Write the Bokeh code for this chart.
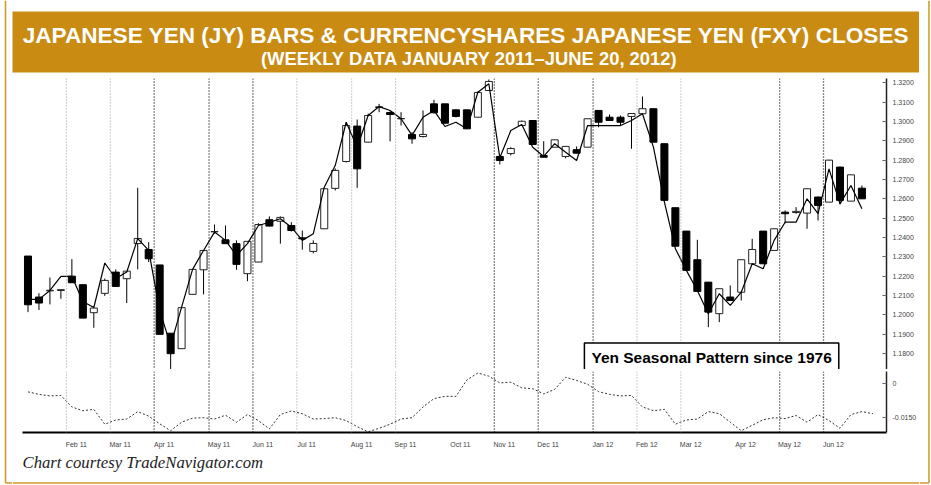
from bokeh.plotting import figure
from bokeh.models import (Range1d, LinearAxis, FixedTicker, Span, Label,
                          CustomJSTickFormatter, NumeralTickFormatter)
from bokeh.layouts import column, row
from bokeh.embed import file_html
from bokeh.resources import INLINE

# ---------------- data (weekly bars, Jan 2011 - Jun 20, 2012) ----------------
jy_open = [1.2304, 1.2092, 1.2124, 1.2126, 1.2200, 1.2156, 1.2011, 1.2111, 1.2221, 1.2187,
           1.2369, 1.2338, 1.2258, 1.1905, 1.1825, 1.2106, 1.2233, 1.2429, 1.2388, 1.2368,
           1.2213, 1.2273, 1.2492, 1.2484, 1.2462, 1.2398, 1.2328, 1.2445, 1.2654, 1.2793,
           1.2976, 1.2893, 1.3072, 1.3046, 1.3014, 1.2933, 1.2922, 1.3091, 1.3091, 1.3060,
           1.3060, 1.3022, 1.3160, 1.2819, 1.2834, 1.2979, 1.3005, 1.2824, 1.2867, 1.2819,
           1.2854, 1.2867, 1.3057, 1.3022, 1.3022, 1.3026, 1.3040, 1.3066, 1.2885, 1.2554,
           1.2433, 1.2285, 1.2169, 1.2006, 1.2092, 1.2117, 1.2264, 1.2433, 1.2333, 1.2531,
           1.2529, 1.2526, 1.2609, 1.2583, 1.2764, 1.2588, 1.2655]
jy_close = [1.2052, 1.2061, 1.2127, 1.2130, 1.2166, 1.1983, 1.2035, 1.2178, 1.2147, 1.2226,
            1.2395, 1.2290, 1.1899, 1.1799, 1.2037, 1.2235, 1.2333, 1.2431, 1.2368, 1.2261,
            1.2380, 1.2467, 1.2459, 1.2504, 1.2436, 1.2393, 1.2369, 1.2652, 1.2747, 1.2979,
            1.2755, 1.3031, 1.3076, 1.3036, 1.3015, 1.2910, 1.2933, 1.3045, 1.2991, 1.3026,
            1.2962, 1.3150, 1.3207, 1.2798, 1.2860, 1.3001, 1.2881, 1.2815, 1.2905, 1.2871,
            1.2836, 1.3014, 1.2996, 1.3005, 1.2996, 1.3041, 1.3066, 1.2893, 1.2592, 1.2355,
            1.2230, 1.2121, 1.2014, 1.2135, 1.2074, 1.2285, 1.2338, 1.2264, 1.2445, 1.2523,
            1.2535, 1.2652, 1.2566, 1.2800, 1.2592, 1.2724, 1.2600]
jy_high = [1.2304, 1.2112, 1.2193, 1.2131, 1.2288, 1.2156, 1.2038, 1.2188, 1.2235, 1.2226,
           1.2657, 1.2376, 1.2258, 1.1905, 1.2037, 1.2235, 1.2333, 1.2467, 1.2462, 1.2385,
           1.2380, 1.2474, 1.2509, 1.2509, 1.2479, 1.2436, 1.2385, 1.2652, 1.2757, 1.2995,
           1.3010, 1.3041, 1.3091, 1.3052, 1.3048, 1.2945, 1.3057, 1.3112, 1.3091, 1.3062,
           1.3060, 1.3155, 1.3217, 1.2824, 1.2867, 1.3005, 1.3005, 1.2898, 1.2907, 1.2871,
           1.2871, 1.3014, 1.3057, 1.3036, 1.3031, 1.3043, 1.3129, 1.3066, 1.2885, 1.2554,
           1.2433, 1.2388, 1.2169, 1.2135, 1.2152, 1.2285, 1.2393, 1.2433, 1.2445, 1.2540,
           1.2557, 1.2654, 1.2612, 1.2802, 1.2767, 1.2724, 1.2669]
jy_low = [1.2014, 1.2025, 1.2054, 1.2083, 1.2166, 1.1983, 1.1933, 1.2098, 1.2147, 1.2061,
          1.2235, 1.2273, 1.1899, 1.1720, 1.1825, 1.2106, 1.2106, 1.2419, 1.2367, 1.2233,
          1.2174, 1.2273, 1.2457, 1.2368, 1.2431, 1.2337, 1.2318, 1.2445, 1.2643, 1.2788,
          1.2657, 1.2891, 1.3048, 1.2897, 1.2979, 1.2885, 1.2917, 1.3041, 1.2990, 1.3021,
          1.2962, 1.3021, 1.3160, 1.2778, 1.2824, 1.2979, 1.2881, 1.2814, 1.2866, 1.2809,
          1.2834, 1.2867, 1.2970, 1.3005, 1.2979, 1.2859, 1.3040, 1.2893, 1.2592, 1.2355,
          1.2230, 1.2121, 1.1936, 1.1962, 1.2074, 1.2074, 1.2264, 1.2264, 1.2333, 1.2473,
          1.2523, 1.2445, 1.2488, 1.2583, 1.2571, 1.2588, 1.2600]
fxy_close = [1.2080, 1.2080, 1.2126, 1.2199, 1.2199, 1.2069, 1.2038, 1.2268, 1.2188, 1.2221,
             1.2394, 1.2333, 1.2023, 1.1842, 1.2040, 1.2235, 1.2333, 1.2428, 1.2385, 1.2307,
             1.2368, 1.2462, 1.2479, 1.2497, 1.2453, 1.2385, 1.2419, 1.2660, 1.2772, 1.2996,
             1.2867, 1.3031, 1.3077, 1.3057, 1.3014, 1.2928, 1.3022, 1.3057, 1.2974, 1.2996,
             1.2962, 1.3151, 1.3195, 1.2812, 1.2953, 1.2984, 1.2867, 1.2819, 1.2885, 1.2841,
             1.2798, 1.2979, 1.2979, 1.2979, 1.2979, 1.3005, 1.3040, 1.2867, 1.2583, 1.2342,
             1.2230, 1.2126, 1.2006, 1.2109, 1.2049, 1.2117, 1.2264, 1.2238, 1.2385, 1.2479,
             1.2479, 1.2600, 1.2523, 1.2755, 1.2574, 1.2669, 1.2549]
seasonal = [-0.0038, -0.0049, -0.0056, -0.0054, -0.0105, -0.0122, -0.0116, -0.0182, -0.0163, -0.0159,
            -0.0126, -0.0146, -0.0180, -0.0211, -0.0173, -0.0155, -0.0153, -0.0159, -0.0142, -0.0173,
            -0.0139, -0.0166, -0.0203, -0.0139, -0.0123, -0.0135, -0.0159, -0.0157, -0.0153, -0.0166,
            -0.0193, -0.0216, -0.0200, -0.0182, -0.0159, -0.0153, -0.0105, -0.0068, -0.0058, -0.0058,
            0.0015, 0.0046, 0.0032, 0.0002, 0.0005, -0.0020, -0.0024, -0.0047, -0.0027, 0.0027,
            0.0013, -0.0004, -0.0037, -0.0049, -0.0056, -0.0054, -0.0105, -0.0122, -0.0116, -0.0182,
            -0.0163, -0.0159, -0.0126, -0.0135, -0.0173, -0.0211, -0.0187, -0.0162, -0.0153, -0.0157,
            -0.0143, -0.0173, -0.0139, -0.0166, -0.0200, -0.0139, -0.0126, -0.0135]

month_labels = ["Feb 11", "Mar 11", "Apr 11", "May 11", "Jun 11", "Jul 11", "Aug 11", "Sep 11",
                "Oct 11", "Nov 11", "Dec 11", "Jan 12", "Feb 12", "Mar 12", "Apr 12", "May 12", "Jun 12"]
month_first_bar = [4, 8, 12, 17, 21, 25, 30, 34, 39, 43, 47, 52, 56, 60, 65, 69, 73]
price_ticks = [1.18, 1.19, 1.20, 1.21, 1.22, 1.23, 1.24, 1.25, 1.26, 1.27, 1.28, 1.29, 1.30, 1.31, 1.32]
seasonal_ticks = [0.0, -0.015]

title_1 = "JAPANESE YEN (JY) BARS & CURRENCYSHARES JAPANESE YEN (FXY) CLOSES"
title_2 = "(WEEKLY DATA JANUARY 2011\u2013JUNE 20, 2012)"
note = "Yen Seasonal Pattern since 1976"
credit = "Chart courtesy TradeNavigator.com"

# ---------------- styling ----------------
GOLD = "#C98B12"
FRAME_GOLD = "#D29A2E"
COLW = 907
dark_months = {"Apr 11", "May 11", "Jun 11", "Nov 11", "Dec 11", "Jan 12", "May 12", "Jun 12"}
hidden_months = {"Oct 11", "Apr 12"}

bars = list(range(len(jy_open)))
sidx = list(range(len(seasonal)))
x_range = Range1d(-0.5, 78.24)


def bare(fig):
    fig.outline_line_color = None
    fig.grid.visible = False
    fig.border_fill_color = "white"
    fig.background_fill_color = "white"
    return fig


common = dict(toolbar_location=None, output_backend="svg", title=None,
              x_axis_location=None, y_axis_location=None)
noborder = dict(min_border_left=0, min_border_right=0, min_border_top=0, min_border_bottom=0)

# ---------------- outer gold frame strips ----------------
left_strip = bare(figure(width=12, height=485, x_range=Range1d(0, 12), y_range=Range1d(485, 0),
                         frame_align=False, **noborder, **common))
left_strip.segment(x0=[5, 5], y0=[0, 482.5], x1=[5, 12], y1=[482.5, 482.5],
                   line_color=FRAME_GOLD, line_width=1.6)
right_strip = bare(figure(width=12, height=485, x_range=Range1d(919, 931), y_range=Range1d(485, 0),
                          frame_align=False, **noborder, **common))
right_strip.segment(x0=[928.5, 919], y0=[0, 482.5], x1=[928.5, 928.5], y1=[482.5, 482.5],
                    line_color=FRAME_GOLD, line_width=1.6)

# ---------------- banner ----------------
banner = bare(figure(width=COLW, height=78, x_range=Range1d(12, 919), y_range=Range1d(72, 11),
                     min_border_left=0, min_border_right=0, min_border_top=11, min_border_bottom=6,
                     frame_align=False, **common))
banner.background_fill_color = GOLD
banner.add_layout(Label(x=465.5, y=35, text=title_1, text_align="center", text_baseline="middle",
                        text_color="white", text_font="Liberation Sans", text_font_style="bold",
                        text_font_size="22.6px"))
banner.add_layout(Label(x=469, y=58, text=title_2, text_align="center", text_baseline="middle",
                        text_color="white", text_font="Liberation Sans", text_font_style="bold",
                        text_font_size="18.4px"))

# ---------------- main price panel ----------------
main = bare(figure(width=COLW, height=291, x_range=x_range, y_range=Range1d(1.17173, 1.32222),
                   min_border_left=10, min_border_right=32, min_border_top=0, min_border_bottom=0,
                   **common))

ay = LinearAxis(ticker=FixedTicker(ticks=price_ticks, minor_ticks=[]),
                formatter=NumeralTickFormatter(format="0.0000"),
                major_tick_in=4, major_tick_out=0, minor_tick_in=0, minor_tick_out=0,
                axis_line_color="#222222", axis_line_width=1.5, major_tick_line_color="#666666",
                major_label_text_font="Liberation Sans", major_label_text_font_size="7px",
                major_label_text_color="#444444", major_label_standoff=6)
main.add_layout(ay, "right")


def month_lines(fig):
    for lab, fb in zip(month_labels, month_first_bar):
        if lab in hidden_months:
            continue
        dark = lab in dark_months
        fig.add_layout(Span(location=fb - 0.5, dimension="height", line_dash="1 2",
                            line_color="#111111" if dark else "#999999",
                            line_width=1.3 if dark else 1))


month_lines(main)

up = [i for i in bars if jy_close[i] >= jy_open[i]]
dn = [i for i in bars if jy_close[i] < jy_open[i]]

main.segment(x0=bars, y0=jy_low, x1=bars, y1=jy_high, line_color="black", line_width=1)
main.vbar(x=up, width=0.64, top=[jy_close[i] for i in up], bottom=[jy_open[i] for i in up],
          fill_color="white", line_color="#222222", line_width=1)
main.vbar(x=dn, width=0.64, top=[jy_open[i] for i in dn], bottom=[jy_close[i] for i in dn],
          fill_color="black", line_color="black", line_width=1)
main.line(bars, fxy_close, line_color="black", line_width=1.2)

main.add_layout(Label(x=62.3, y=1.1780, text=note, text_align="center", text_baseline="middle",
                      text_font="Liberation Sans", text_font_style="bold", text_font_size="15.5px",
                      text_color="black", border_line_color="black", border_line_width=1.5,
                      background_fill_color="white", padding=(7, 6)))

# ---------------- seasonal panel ----------------
lower = bare(figure(width=COLW, height=81, x_range=x_range, y_range=Range1d(-0.02189, 0.00527),
                    min_border_left=10, min_border_right=32, min_border_top=2, min_border_bottom=12,
                    **common))

month_ticks = [fb + 0.4 for fb in month_first_bar]
ax = LinearAxis(ticker=FixedTicker(ticks=month_ticks, minor_ticks=[]),
                formatter=CustomJSTickFormatter(
                    args=dict(pos=month_ticks, labels=month_labels),
                    code="const i = pos.findIndex(t => Math.abs(t - tick) < 1e-6); return i >= 0 ? labels[i] : '';"),
                major_tick_line_color=None, minor_tick_line_color=None,
                axis_line_color="black", axis_line_width=2,
                major_label_text_font="Liberation Sans", major_label_text_font_size="7px",
                major_label_text_color="#444444", major_label_standoff=2)
lower.add_layout(ax, "below")

ay2 = LinearAxis(ticker=FixedTicker(ticks=seasonal_ticks, minor_ticks=[]),
                 formatter=CustomJSTickFormatter(code="return tick == 0 ? '0' : tick.toFixed(4);"),
                 major_tick_in=4, major_tick_out=0, minor_tick_in=0, minor_tick_out=0,
                 axis_line_color="#222222", axis_line_width=1.5, major_tick_line_color="#666666",
                 major_label_text_font="Liberation Sans", major_label_text_font_size="7px",
                 major_label_text_color="#444444", major_label_standoff=6)
lower.add_layout(ay2, "right")

month_lines(lower)
lower.line(sidx, seasonal, line_color="#333333", line_dash="2 2", line_width=1)

# ---------------- footer ----------------
footer = bare(figure(width=COLW, height=35, x_range=Range1d(12, 919), y_range=Range1d(485, 450),
                     frame_align=False, **noborder, **common))
footer.segment(x0=[12], y0=[482.5], x1=[919], y1=[482.5], line_color=FRAME_GOLD, line_width=1.6)
footer.add_layout(Label(x=22, y=462, text=credit, text_align="left", text_baseline="middle",
                        text_font="Liberation Serif", text_font_style="italic",
                        text_font_size="16.7px", text_color="#222222"))

page = row(left_strip, column(banner, main, lower, footer, spacing=0), right_strip, spacing=0)
open("out.html", "w").write(file_html(page, INLINE))
